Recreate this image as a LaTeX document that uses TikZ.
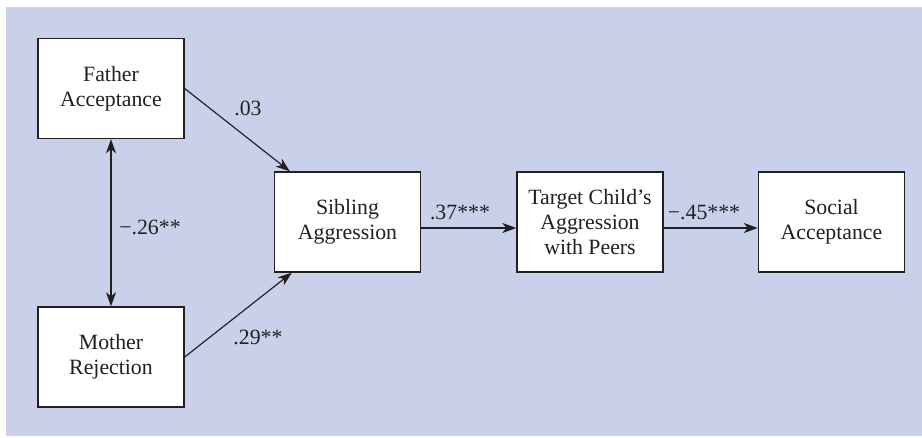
\documentclass[tikz,border=0pt]{standalone}
\usepackage{fontspec}
\setmainfont{Liberation Serif}
\usepackage{tikz}
\usetikzlibrary{positioning, arrows.meta}
\definecolor{PanelBlue}{RGB}{201,209,234}
\definecolor{InkGray}{RGB}{35,31,32}
\tikzset{
  varbox/.style={draw=InkGray, line width=1.2pt, fill=white, minimum width=4.38cm, minimum height=3cm,
    inner sep=2pt, align=center, text=InkGray, font=\fontsize{18.6}{21}\selectfont},
  patharr/.style={-{Stealth[length=0.42cm, width=0.3cm, inset=0.12cm]}, line width=1pt, InkGray},
  corrarr/.style={{Stealth[length=0.42cm, width=0.3cm, inset=0.12cm]}-{Stealth[length=0.42cm, width=0.3cm, inset=0.12cm]},
    line width=1pt, InkGray},
  coef/.style={text=InkGray, inner sep=1pt, font=\fontsize{18.6}{21}\selectfont},
}

\begin{document}
\begin{tikzpicture}[x=0.03cm, y=-0.03cm]
    \useasboundingbox (0,0) rectangle (922,437);
    % shaded panel
    \fill[PanelBlue] (6,7) rectangle (922,436);
    % the five measures
    \node[varbox] (father) at (111,88.5) {Father\\Acceptance};
    \node[varbox] (mother) at (111,357) {Mother\\Rejection};
    \node[varbox] (sib) at (347.5,222) {Sibling\\Aggression};
    \node[varbox] (target) at (590,222) {Target Child’s\\Aggression\\with Peers};
    \node[varbox] (social) at (831.5,222) {Social\\Acceptance};
    % paths
    \draw[corrarr] (father.south) -- (mother.north);
    \draw[patharr] (father.east) -- ([xshift=0.48cm]sib.north west);
    \draw[patharr] (mother.east) -- ([xshift=0.54cm]sib.south west);
    \draw[patharr] ([yshift=-0.18cm]sib.east) -- ([yshift=-0.18cm]target.west);
    \draw[patharr] ([yshift=-0.18cm]target.east) -- ([yshift=-0.18cm]social.west);
    % path coefficients
    \node[coef] (c-fs) at (248,108) {.03};
    \node[coef] (c-ms) at (258,337) {.29**};
    \node[coef] (c-fm) at (150,227) {−.26**};
    \node[coef] (c-st) at (460,212) {.37***};
    \node[coef] (c-ts) at (704,212) {−.45***};
\end{tikzpicture}
\end{document}
